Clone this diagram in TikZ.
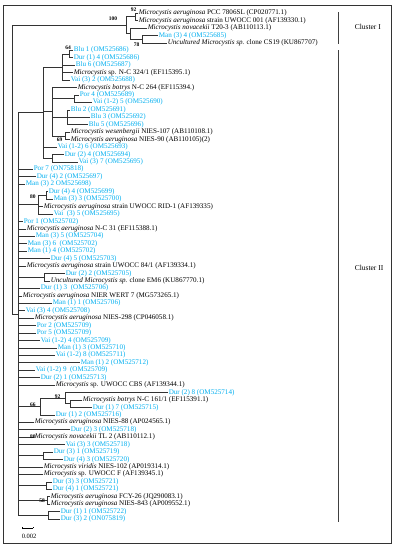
\documentclass[tikz,border=0pt]{standalone}
\usepackage{fontspec}
\setmainfont{Liberation Serif}
\definecolor{cb}{RGB}{0,174,239}
\newcommand\Mc{\textit{Microcystis}}
\newcommand\lf[5]{\node[#5] (#1) at (#3,{13+7.44*(#2-1)}) {#4};}
\newcommand\bl[2]{\draw[br] (#1) |- (#2.west);}
\newcommand\bi[2]{\draw[br] (#1) |- (#2);}
\begin{document}
\begin{tikzpicture}[x=1pt,y=-1pt,
  lbl/.style={anchor=west,inner sep=0.6pt,font=\fontsize{7.1}{8}\selectfont},
  blu/.style={lbl,text=cb},
  blk/.style={lbl,text=black},
  br/.style={line width=0.45pt,draw=black!80},
  bs/.style={font=\bfseries\fontsize{5.5}{6}\selectfont,inner sep=0pt}]
\useasboundingbox (0,0) rectangle (395,550);
\draw[line width=0.8pt,black!80] (3,5) rectangle (391,543);
% ---------- leaves
\lf{L1}{1}{138}{\Mc\ \textit{aeruginosa} PCC 7806SL (CP020771.1)}{blk}
\lf{L2}{2}{138}{\Mc\ \textit{aeruginosa} strain UWOCC 001 (AF139330.1)}{blk}
\lf{L3}{3}{147}{\Mc\ \textit{novacekii} T20-3 (AB110113.1)}{blk}
\lf{L4}{4}{158}{Man (3) 4 (OM525685)}{blu}
\lf{L5}{5}{167}{\textit{Uncultured Microcystis sp.} clone CS19 (KU867707)}{blk}
\lf{L6}{6}{73}{Blu 1 (OM525686)}{blu}
\lf{L7}{7}{73}{Dur (1) 4 (OM525686)}{blu}
\lf{L8}{8}{75}{Blu 6 (OM525687)}{blu}
\lf{L9}{9}{73}{\Mc\ sp. N-C 324/1 (EF115395.1)}{blk}
\lf{L10}{10}{70}{Vai (3) 2 (OM525688)}{blu}
\lf{L11}{11}{77}{\Mc\ \textit{botrys} N-C 264 (EF115394.)}{blk}
\lf{L12}{12}{79}{Por 4 (OM525689)}{blu}
\lf{L13}{13}{92}{Vai (1-2) 5 (OM525690)}{blu}
\lf{L14}{14}{70}{Blu 2 (OM525691)}{blu}
\lf{L15}{15}{90}{Blu 3 (OM525692)}{blu}
\lf{L16}{16}{88}{Blu 5 (OM525696)}{blu}
\lf{L17}{17}{70}{\Mc\ \textit{wesenbergii} NIES-107 (AB110108.1)}{blk}
\lf{L18}{18}{70}{\Mc\ \textit{aeruginosa} NIES-90 (AB110105)(2)}{blk}
\lf{L19}{19}{57}{Vai (1-2) 6 (OM525693)}{blu}
\lf{L20}{20}{64}{Dur (2) 4 (OM525694)}{blu}
\lf{L21}{21}{78}{Vai (3) 7 (OM525695)}{blu}
\lf{L22}{22}{33}{Por 7 (ON75818)}{blu}
\lf{L23}{23}{36}{Dur (4) 2 (OM525697)}{blu}
\lf{L24}{24}{25}{Man (3) 2 OM525698)}{blu}
\lf{L25}{25}{48}{Dur (4) 4 (OM525699)}{blu}
\lf{L26}{26}{53}{Man (3) 3 (OM525700)}{blu}
\lf{L27}{27}{43}{\Mc\ \textit{aeruginosa} strain UWOCC RID-1 (AF139335)}{blk}
\lf{L28}{28}{53}{Vai \ (3) 5 (OM525695)}{blu}
\lf{L29}{29}{23}{Por 1 (OM525702)}{blu}
\lf{L30}{30}{26}{\Mc\ \textit{aeruginosa} N-C 31 (EF115388.1)}{blk}
\lf{L31}{31}{35}{Man (3) 5 (OM525704)}{blu}
\lf{L32}{32}{27}{Man (3) 6 \ (OM525702)}{blu}
\lf{L33}{33}{27}{Man (1) 4 (OM525702)}{blu}
\lf{L34}{34}{50}{Dur (4) 5 (OM525703)}{blu}
\lf{L35}{35}{26}{\Mc\ \textit{aeruginosa} strain UWOCC 84/1 (AF139334.1)}{blk}
\lf{L36}{36}{65}{Dur (2) 2 (OM525705)}{blu}
\lf{L37}{37}{50}{\textit{Uncultured Microcystis sp.} clone EM6 (KU867770.1)}{blk}
\lf{L38}{38}{40}{Dur (1) 3 \ (OM525706)}{blu}
\lf{L39}{39}{22}{\Mc\ \textit{aeruginosa} NIER WERT 7 (MG573265.1)}{blk}
\lf{L40}{40}{52}{Man (1) 1 (OM525706)}{blu}
\lf{L41}{41}{25}{Vai (3) 4 (OM525708)}{blu}
\lf{L42}{42}{34}{\Mc\ \textit{aeruginosa} NIES-298 (CP046058.1)}{blk}
\lf{L43}{43}{36}{Por 2 (OM525709)}{blu}
\lf{L44}{44}{36}{Por 5 (OM525709)}{blu}
\lf{L45}{45}{40}{Vai (1-2) 4 (OM525709)}{blu}
\lf{L46}{46}{57}{Man (1) 3 (OM525710)}{blu}
\lf{L47}{47}{55}{Vai (1-2) 8 (OM525711)}{blu}
\lf{L48}{48}{80}{Man (1) 2 (OM525712)}{blu}
\lf{L49}{49}{35}{Vai (1-2) 9 \ (OM525709)}{blu}
\lf{L50}{50}{40}{Dur (2) 1 (OM525713)}{blu}
\lf{L51}{51}{55}{\Mc\ sp. UWOCC CBS (AF139344.1)}{blk}
\lf{L52}{52}{168}{Dur (2) 8 (OM525714)}{blu}
\lf{L53}{53}{82}{\Mc\ \textit{botrys} N-C 161/1 (EF115391.1)}{blk}
\lf{L54}{54}{92}{Dur (1) 7 (OM525715)}{blu}
\lf{L55}{55}{55}{Dur (1) 2 (OM525716)}{blu}
\lf{L56}{56}{34}{\Mc\ \textit{aeruginosa} NIES-88 (AP024565.1)}{blk}
\lf{L57}{57}{70}{Dur (2) 3 (OM525718)}{blu}
\lf{L58}{58}{34}{\Mc\ \textit{novacekii} TL 2 (AB110112.1)}{blk}
\lf{L59}{59}{65}{Vai (3) 3 (OM525718)}{blu}
\lf{L60}{60}{53}{Dur (3) 1 (OM525719)}{blu}
\lf{L61}{61}{63}{Dur (4) 3 (OM525720)}{blu}
\lf{L62}{62}{43}{\Mc\ \textit{viridis} NIES-102 (AP019314.1)}{blk}
\lf{L63}{63}{43}{\Mc\ sp. UWOCC F (AF139345.1)}{blk}
\lf{L64}{64}{52}{Dur (3) 3 (OM525721)}{blu}
\lf{L65}{65}{52}{Dur (4) 1 (OM525721)}{blu}
\lf{L66}{66}{50}{\Mc\ \textit{aeruginosa} FCY-26 (JQ290083.1)}{blk}
\lf{L67}{67}{50}{\Mc\ \textit{aeruginosa} NIES-843 (AP009552.1)}{blk}
\lf{L68}{68}{60}{Dur (1) 1 (OM525722)}{blu}
\lf{L69}{69}{60}{Dur (3) 2 (ON075819)}{blu}
% ---------- internal nodes
\coordinate (n92) at (135,16.7);
\coordinate (n78) at (142,39.0);
\coordinate (nC) at (130,33.4);
\coordinate (n100) at (126,25.1);
\coordinate (nBD) at (69,53.9);
\coordinate (n64) at (62,66.9);
\coordinate (nP) at (74,98.56);
\coordinate (nBl) at (67,117.16);
\coordinate (n69) at (65,135.76);
\coordinate (nA2) at (52,111.6);
\coordinate (nD24) at (52,158.08);
\coordinate (nB) at (43,112.5);
\coordinate (nDM) at (46,195.28);
\coordinate (n80) at (38,204.58);
\coordinate (n36) at (44,277.1);
\coordinate (nx) at (70,403.6);
\coordinate (n92b) at (65,398.0);
\coordinate (n66) at (40,406.4);
\coordinate (n31) at (43,455.7);
\coordinate (n34) at (46,485.44);
\coordinate (n58) at (47,500.3);
\coordinate (n12) at (48,515.2);
\coordinate (nII) at (18,313.9);
\coordinate (root) at (12,169.5);
% ---------- branches
\bl{n92}{L1}\bl{n92}{L2}
\bl{n78}{L4}\bl{n78}{L5}
\bl{nC}{L3}\bi{nC}{n78}
\bi{n100}{n92}\bi{n100}{nC}
\bl{nBD}{L6}\bl{nBD}{L7}
\bi{n64}{nBD}\bl{n64}{L8}\bl{n64}{L9}\bl{n64}{L10}
\bl{nP}{L12}\bl{nP}{L13}
\bl{nBl}{L14}\bl{nBl}{L15}\bl{nBl}{L16}
\bl{n69}{L17}\bl{n69}{L18}
\bl{nA2}{L11}\bi{nA2}{nP}\bi{nA2}{nBl}\bi{nA2}{n69}
\bl{nD24}{L20}\bl{nD24}{L21}
\bi{nB}{n64}\bi{nB}{nA2}\bl{nB}{L19}\bi{nB}{nD24}
\bl{nDM}{L25}\bl{nDM}{L26}
\bi{n80}{nDM}\bl{n80}{L27}\bl{n80}{L28}
\bl{n36}{L36}\bl{n36}{L37}
\bl{nx}{L53}\bl{nx}{L54}
\bl{n92b}{L52}\bi{n92b}{nx}
\bi{n66}{n92b}\bl{n66}{L55}
\bl{n31}{L60}\bl{n31}{L61}
\bl{n34}{L64}\bl{n34}{L65}
\bl{n58}{L66}\bl{n58}{L67}
\bl{n12}{L68}\bl{n12}{L69}
\foreach \c in {nB,n80,n36,n66,n31,n34,n58,n12} {\bi{nII}{\c}}
\foreach \c in {L22,L23,L24,L29,L30,L31,L32,L33,L34,L35,L38,L39,L40,L41,L42,L43,L44,L45,L46,L47,L48,L49,L50,L51,L56,L57,L58,L59,L62,L63} {\bl{nII}{\c}}
\bi{root}{n100}\bi{root}{nII}
% ---------- bootstrap values
\node[bs] (b92) at (133.5,10) {92};
\node[bs] (b100) at (113,18.5) {100};
\node[bs] (b78) at (136.5,45) {78};
\node[bs] (b64) at (68,48) {64};
\node[bs] (b69) at (59.5,140) {69};
\node[bs] (b80) at (33,197) {80};
\node[bs] (b92b) at (57.5,397) {92};
\node[bs] (b66) at (33,405) {66};
\node[bs] (b80b) at (33,437) {80};
\node[bs] (b58) at (42,501) {58};
% ---------- clusters
\draw[line width=0.8pt,black!75] (338,12) coordinate (c1a) -- (338,44) coordinate (c1b);
\draw[line width=0.8pt,black!75] (338,50) coordinate (c2a) -- (338,522) coordinate (c2b);
\node[lbl,font=\fontsize{7.5}{9}\selectfont] (cl1) at (354,27) {Cluster I};
\node[lbl,font=\fontsize{7.5}{9}\selectfont] (cl2) at (354,268) {Cluster II};
% ---------- scale bar
\draw[line width=0.5pt] (22,528) coordinate (sa) -- (33,528) coordinate (sb);
\draw[line width=0.5pt] (sa) -- ++(0,-1.5) (sb) -- ++(0,-1.5);
\node[lbl,font=\fontsize{6.5}{7}\selectfont] (sc) at (21,536) {0.002};
\end{tikzpicture}
\end{document}
